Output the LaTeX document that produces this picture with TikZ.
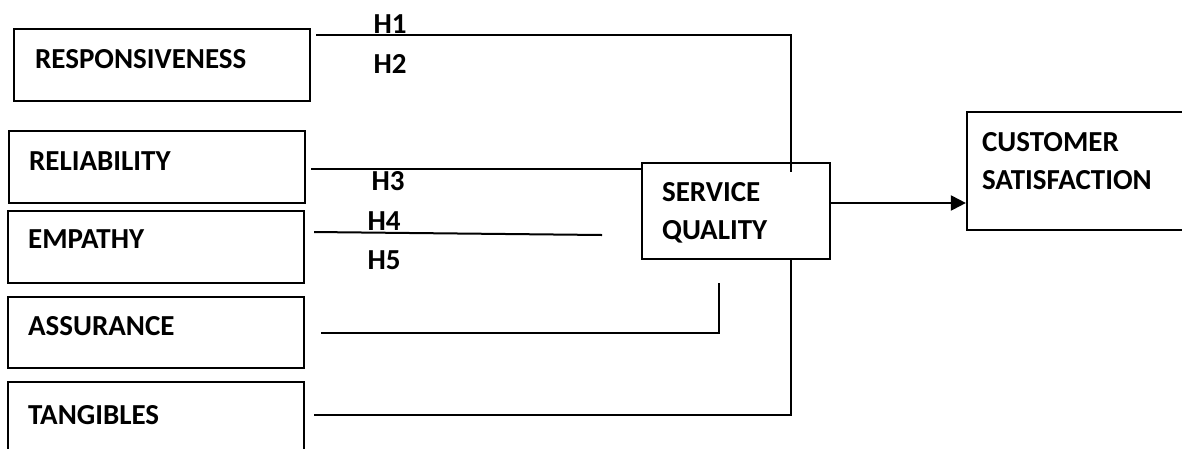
\documentclass[tikz,border=0pt]{standalone}
\usepackage{fontspec}
\setmainfont{Carlito}
\usepackage{tikz}
\usetikzlibrary{arrows.meta,positioning}
\tikzset{
  dimbox/.style={draw, line width=2.2pt, minimum width=296pt, minimum height=72pt, inner sep=0pt},
  boxtext/.style={font=\fontsize{29}{38}\selectfont\bfseries, inner sep=0pt, align=left},
  hyp/.style={font=\fontsize{29}{38}\selectfont\bfseries, inner sep=0pt},
  link/.style={line width=2pt},
  arr/.style={-{Triangle[length=15pt,width=15pt]}, line width=2pt}
}

\begin{document}
\begin{tikzpicture}[x=1pt, y=-1pt]
  \useasboundingbox (0,0) rectangle (1182,448);
  % dimension boxes
  \node[dimbox] (resp) at (162,65) {};
  \node[dimbox] (reli) at (157,167) {};
  \node[dimbox] (emp) at (156,247) {};
  \node[dimbox, minimum height=71pt] (assu) at (156,332.5) {};
  \node[dimbox] (tang) at (156,418) {};
  \node[dimbox, minimum width=188pt, minimum height=96pt] (serv) at (736,211) {};
  \node[dimbox, minimum width=240pt, minimum height=118pt] (cust) at (1087,171) {};
  % box texts
  \node[boxtext, below right=21pt and 22pt of resp.north west] (resp-t) {RESPONSIVENESS};
  \node[boxtext, below right=22pt and 21pt of reli.north west] (reli-t) {RELIABILITY};
  \node[boxtext, below right=20pt and 21pt of emp.north west] (emp-t) {EMPATHY};
  \node[boxtext, below right=20pt and 21pt of assu.north west] (assu-t) {ASSURANCE};
  \node[boxtext, below right=24pt and 21pt of tang.north west] (tang-t) {TANGIBLES};
  \node[boxtext, below right=20pt and 21pt of serv.north west] (serv-t) {SERVICE\\QUALITY};
  \node[boxtext, below right=21pt and 16pt of cust.north west] (cust-t) {CUSTOMER\\SATISFACTION};
  % hypotheses
  \node[hyp] (h1) at (390,24) {H1};
  \node[hyp] (h2) at (390,64) {H2};
  \node[hyp] (h3) at (388,181) {H3};
  \node[hyp] (h4) at (384,221) {H4};
  \node[hyp] (h5) at (384,260) {H5};
  % free ends
  \coordinate (h1-end) at (791,172);
  \coordinate (emp-end) at (602,235);
  \coordinate (assu-end) at (719,283);
  % links
  \draw[link] ([shift={(5,7)}]resp.north east) -| (h1-end);
  \draw[link] ([shift={(5,2)}]reli.east) coordinate (reli-out) -- (reli-out -| serv.west);
  \draw[link] ([shift={(9,-15)}]emp.east) -- (emp-end);
  \draw[link] ([shift={(16,0)}]assu.east) -| (assu-end);
  \draw[link] ([shift={(9,-3)}]tang.east) -| ([shift={(55,0)}]serv.south);
  \coordinate (serv-out) at ([shift={(0,-8)}]serv.east);
  \draw[arr] (serv-out) -- (serv-out -| cust.west);
\end{tikzpicture}
\end{document}
